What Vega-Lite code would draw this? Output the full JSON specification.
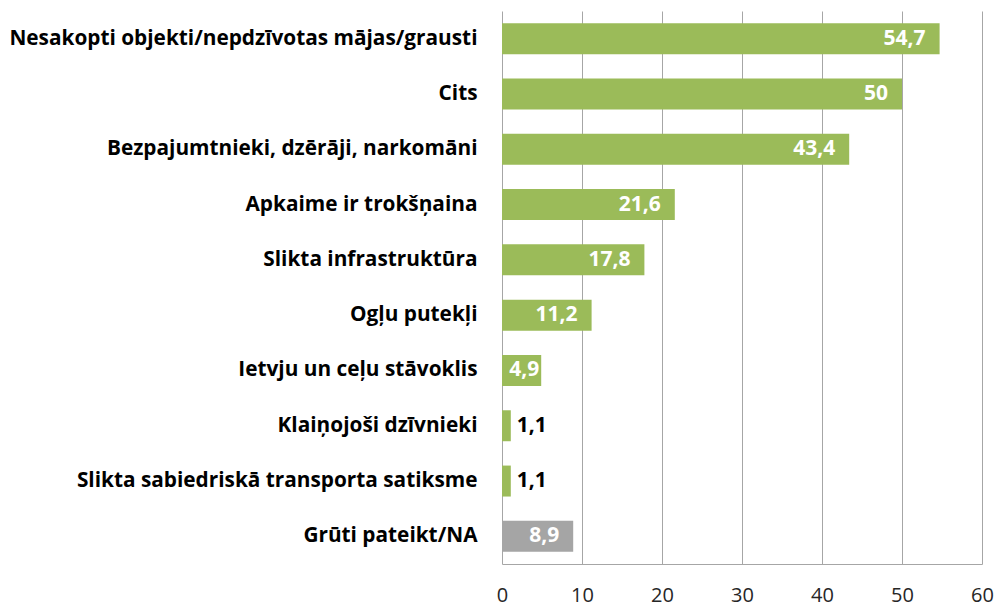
{
  "$schema": "https://vega.github.io/schema/vega-lite/v6.json",
  "autosize": "none",
  "width": 480,
  "height": 553,
  "padding": {"left": 502, "top": 11, "right": 13, "bottom": 43},
  "background": "white",
  "config": {"view": {"stroke": null}, "font": "Open Sans"},
  "data": {"values": [
    {"cat": "Nesakopti objekti/nepdzīvotas mājas/grausti", "value": 54.7, "label": "54,7", "grp": "a"},
    {"cat": "Cits", "value": 50, "label": "50", "grp": "a"},
    {"cat": "Bezpajumtnieki, dzērāji, narkomāni", "value": 43.4, "label": "43,4", "grp": "a"},
    {"cat": "Apkaime ir trokšņaina", "value": 21.6, "label": "21,6", "grp": "a"},
    {"cat": "Slikta infrastruktūra\u00a0", "value": 17.8, "label": "17,8", "grp": "a"},
    {"cat": "Ogļu putekļi", "value": 11.2, "label": "11,2", "grp": "a"},
    {"cat": "Ietvju un ceļu stāvoklis", "value": 4.9, "label": "4,9", "grp": "a"},
    {"cat": "Klaiņojoši dzīvnieki", "value": 1.1, "label": "1,1", "grp": "a"},
    {"cat": "Slikta sabiedriskā transporta satiksme", "value": 1.1, "label": "1,1", "grp": "a"},
    {"cat": "Grūti pateikt/NA", "value": 8.9, "label": "8,9", "grp": "b"}
  ]},
  "encoding": {
    "y": {"field": "cat", "type": "nominal", "sort": null,
      "scale": {"paddingInner": 0.44, "paddingOuter": 0.22},
      "axis": {"title": null, "ticks": false, "domain": false, "labelFontSize": 20.8, "labelFontWeight": "bold", "labelColor": "#000000", "labelPadding": 25, "labelLimit": 500}},
    "x": {"field": "value", "type": "quantitative",
      "scale": {"domain": [0, 60], "nice": false},
      "axis": {"title": null, "values": [0, 10, 20, 30, 40, 50, 60], "ticks": false, "domainColor": "#a6a6a6", "gridColor": "#a6a6a6", "labelFontSize": 20, "labelColor": "#262626", "labelPadding": 21, "labelFlush": false}}
  },
  "layer": [
    {"mark": {"type": "bar"},
     "encoding": {"color": {"field": "grp", "type": "nominal", "scale": {"domain": ["a", "b"], "range": ["#9BBB59", "#A5A5A5"]}, "legend": null}}},
    {"mark": {"type": "rule", "color": "#a6a6a6"}, "encoding": {"x": {"datum": 0}}},
    {"transform": [{"filter": "datum.value > 6"}],
     "mark": {"type": "text", "align": "right", "baseline": "middle", "dx": -14, "color": "white", "fontWeight": "bold", "fontSize": 21},
     "encoding": {"text": {"field": "label"}}},
    {"transform": [{"filter": "datum.value > 3 && datum.value <= 6"}],
     "mark": {"type": "text", "align": "right", "baseline": "middle", "dx": -2, "color": "white", "fontWeight": "bold", "fontSize": 21},
     "encoding": {"text": {"field": "label"}}},
    {"transform": [{"filter": "datum.value <= 3"}],
     "mark": {"type": "text", "align": "left", "baseline": "middle", "dx": 6, "color": "black", "fontWeight": "bold", "fontSize": 21},
     "encoding": {"text": {"field": "label"}}}
  ]
}
